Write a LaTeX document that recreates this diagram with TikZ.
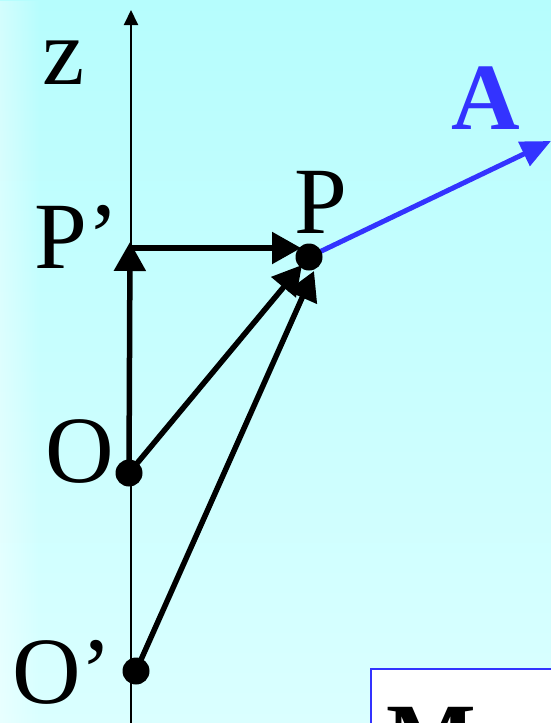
\documentclass[tikz,border=0pt]{standalone}
\usepackage{fontspec}
\setmainfont{Liberation Serif}
\usetikzlibrary{arrows.meta,fadings}
\definecolor{bgtop}{RGB}{182,253,253}
\definecolor{bgbot}{RGB}{218,255,255}
\definecolor{vecblue}{RGB}{51,51,255}
\tikzfading[name=fadeR, left color=transparent!0, right color=transparent!100]
\begin{document}
\begin{tikzpicture}[x=1pt,y=-1pt,
  lbl/.style={font=\fontsize{95}{95}\selectfont, inner sep=0pt, anchor=base west},
  vec/.style={line width=5.5pt, -{Triangle[length=29pt,width=31pt]}},
  dot/.style={circle, fill=black, inner sep=0pt, minimum size=27pt}]
\useasboundingbox (0,0) rectangle (551,723);
\clip (0,0) rectangle (551,723);
% background
\shade[top color=bgtop, bottom color=bgbot] (0,0) rectangle (551,723);
\fill[white, opacity=0.4, path fading=fadeR] (0,0) rectangle (40,723);
% coordinates
\coordinate (zb) at (131,723);
\coordinate (zt) at (131,10);
\coordinate (O) at (129,473);
\coordinate (Oq) at (136,671);
\coordinate (P) at (309,257);
\coordinate (Ptip) at (130,242);
\coordinate (Pp) at (130,248);
\coordinate (Ph) at (301,248);
\coordinate (T1) at (302,265);
\coordinate (T2) at (314,271);
\coordinate (Atip) at (551,141);
% box at bottom right
\draw[vecblue, line width=2pt, fill=white] (371,669) rectangle (570,740);
\node[lbl, font=\fontsize{95}{95}\selectfont\bfseries] (M) at (386,769) {M};
% axis
\draw[line width=2pt, -{Triangle[length=15pt,width=14pt]}] (zb) -- (zt);
% vectors
\draw[vec] (O) -- (Ptip);
\draw[vec] (Pp) -- (Ph);
\draw[vec] (O) -- (T1);
\draw[vec] (Oq) -- (T2);
\draw[line width=5pt, vecblue, -{Triangle[length=30pt,width=26pt]}] (P) -- (Atip);
% dots
\node[dot] (Odot) at (O) {};
\node[dot] (Oqdot) at (Oq) {};
\node[dot] (Pdot) at (P) {};
% labels
\node[lbl] (zl) at (42,84) {z};
\node[lbl] (Pl) at (294,233) {P};
\node[lbl] (Ppl) at (34,268) {P’};
\node[lbl] (Ol) at (45,482) {O};
\node[lbl] (Oql) at (12,703) {O’};
\node[lbl, text=vecblue, font=\fontsize{95}{95}\selectfont\bfseries] (Al) at (451,129) {A};
\end{tikzpicture}
\end{document}
